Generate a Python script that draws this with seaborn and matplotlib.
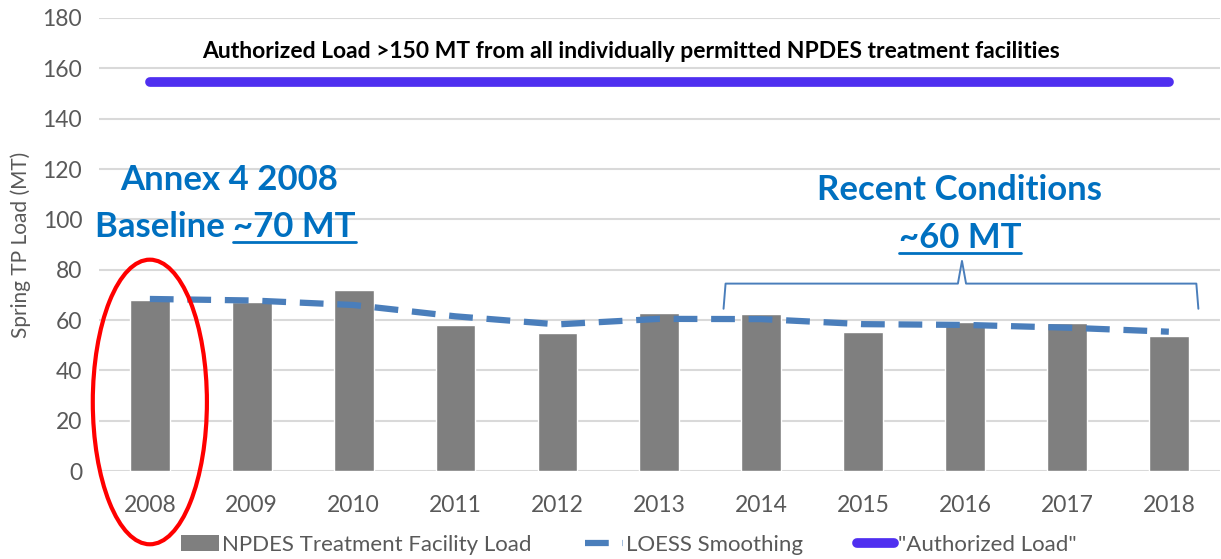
import numpy as np
import pandas as pd
import matplotlib
matplotlib.use('Agg')
import matplotlib.pyplot as plt
from matplotlib.patches import Ellipse, Patch
from matplotlib.lines import Line2D
import seaborn as sns

years = ['2008', '2009', '2010', '2011', '2012', '2013', '2014', '2015', '2016', '2017', '2018']
facility_load = [68.0, 67.1, 72.0, 58.1, 54.8, 62.9, 62.3, 55.3, 59.3, 58.9, 53.6]
loess_smooth = [68.4, 67.8, 66.0, 61.5, 58.3, 60.5, 60.4, 58.4, 58.1, 57.0, 55.4]
authorized_load = [154.5] * len(years)

sns.set_theme(style='white')
plt.rcParams['font.family'] = ['Lato', 'DejaVu Sans']

grey_txt = '#595959'
blue_txt = '#0070C0'
loess_col = '#4A7EBB'
auth_col = '#4F2FF0'

df = pd.DataFrame({'year': years, 'load': facility_load,
                   'loess': loess_smooth, 'auth': authorized_load})
df['pos'] = np.arange(len(df))

fig = plt.figure(figsize=(12.21, 5.59), dpi=100)
ax = fig.add_axes([0.081, 0.157, 0.918, 0.811])

sns.barplot(data=df, x='year', y='load', color='#7F7F7F', saturation=1,
            width=0.39, ax=ax, zorder=2)
sns.lineplot(data=df, x='pos', y='loess', color=loess_col, lw=4.5, ax=ax,
             zorder=3, dashes=False)
ax.lines[-1].set_dashes([3.8, 2.2])
sns.lineplot(data=df, x='pos', y='auth', color=auth_col, lw=7, ax=ax,
             zorder=3, solid_capstyle='round')

ax.set_xlim(-0.5, 10.5)
ax.set_ylim(0, 180)
ax.set_yticks(range(0, 181, 20))
ax.yaxis.grid(True, color='#D9D9D9', lw=1.5, zorder=0)
ax.set_axisbelow(True)
for s in ax.spines.values():
    s.set_visible(False)
ax.tick_params(axis='both', length=0, labelsize=16.5, labelcolor=grey_txt)
ax.tick_params(axis='x', pad=17)
ax.tick_params(axis='y', pad=12)
ax.set_xlabel('')
ax.set_ylabel('Spring TP Load (MT)', fontsize=15, color=grey_txt, labelpad=8)

# annotations
ax.text(4.72, 166.5, 'Authorized Load >150 MT from all individually permitted NPDES treatment facilities',
        ha='center', va='center', fontsize=16.5, fontweight='bold', color='black')
big = dict(fontsize=25, fontweight='bold', color=blue_txt, va='center')
ax.text(0.78, 115.5, 'Annex 4 2008', ha='center', **big)
ax.text(0.82, 97, 'Baseline ', ha='right', **big)
t70 = ax.text(0.82, 97, '~70 MT', ha='left', **big)
ax.text(7.95, 111.5, 'Recent Conditions', ha='center', **big)
t60 = ax.text(7.95, 92.5, '~60 MT', ha='center', **big)

# underline the two numbers using their rendered extents
fig.canvas.draw()
inv = ax.transData.inverted()
for t, yline in [(t70, 91.0), (t60, 86.6)]:
    bb = t.get_window_extent()
    (x0, _), (x1, _) = inv.transform([(bb.x0, bb.y0), (bb.x1, bb.y0)])
    ax.plot([x0, x1], [yline, yline], color=blue_txt, lw=2)

# bracket over recent years
bx0, bx1, bxm = 5.63, 10.29, 7.97
ax.plot([bx0, bx0 + 0.02, bxm - 0.04, bxm, bxm + 0.04, bx1 - 0.02, bx1],
        [64.5, 74.5, 74.5, 83.5, 74.5, 74.5, 64.5],
        color=loess_col, lw=1.4, zorder=4)

ell = Ellipse((0.0, 27.5), width=1.12, height=113, fill=False,
              edgecolor='#FF0000', lw=3, clip_on=False, zorder=5)
ax.add_patch(ell)

handles = [Patch(facecolor='#7F7F7F', edgecolor='none'),
           Line2D([0], [0], color=loess_col, lw=4.5, dashes=[3.8, 2.2]),
           Line2D([0], [0], color=auth_col, lw=7, solid_capstyle='round')]
labels = ['NPDES Treatment Facility Load', 'LOESS Smoothing', '"Authorized Load"']
leg = fig.legend(handles, labels, loc='center', bbox_to_anchor=(0.515, 0.025),
                 ncol=3, frameon=False, fontsize=16, handlelength=1.7,
                 handletextpad=0.15, columnspacing=2.4)
for t in leg.get_texts():
    t.set_color(grey_txt)

fig.savefig('out.png', dpi=100)
